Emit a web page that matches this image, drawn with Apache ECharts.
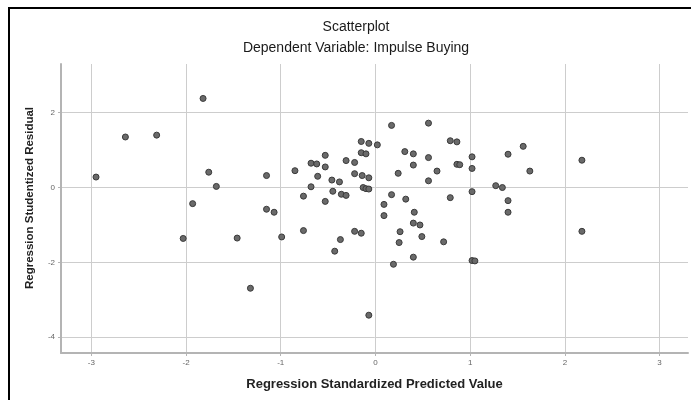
<!DOCTYPE html>
<html>
<head>
<meta charset="utf-8">
<script src="https://cdn.jsdelivr.net/npm/echarts@6/dist/echarts.min.js"></script>
<style>
html,body{margin:0;padding:0;background:#fff;}
#chart{width:691px;height:400px;}
</style>
</head>
<body>
<div id="chart"></div>
<script>
// Regression standardized predicted value (x)
var predicted = [
-2.95,-2.64,-2.31,-1.82,-1.76,-1.68,-1.93,-2.03,-1.46,-1.32,
-1.15,-1.15,-1.07,-0.99,-0.85,-0.76,-0.76,-0.68,-0.62,-0.68,
-0.61,-0.53,-0.53,-0.53,-0.46,-0.38,-0.45,-0.36,-0.31,-0.31,
-0.22,-0.43,-0.37,-0.22,-0.15,-0.15,-0.07,0.02,-0.15,-0.10,
-0.22,-0.14,-0.07,-0.13,-0.10,-0.07,-0.07,0.17,0.31,0.40,
0.24,0.17,0.09,0.09,0.32,0.26,0.25,0.19,0.56,0.79,
0.86,0.56,1.02,0.40,0.86,0.89,0.65,1.02,0.56,1.40,
1.56,1.63,1.27,1.34,1.02,0.79,1.40,0.41,1.40,2.18,
2.18,0.40,0.47,0.49,0.72,0.40,1.02,1.05
];
// Regression studentized residual (y)
var residual = [
0.28,1.35,1.40,2.38,0.41,0.03,-0.43,-1.36,-1.35,-2.69,
0.32,-0.58,-0.66,-1.32,0.45,-0.23,-1.15,0.65,0.63,0.02,
0.30,0.86,0.55,-0.37,0.20,0.15,-0.10,-0.18,-0.21,0.72,
0.67,-1.70,-1.39,-1.17,-1.22,1.23,1.18,1.14,0.93,0.90,
0.37,0.32,0.26,0.00,-0.03,-0.04,-3.41,1.66,0.96,0.90,
0.38,-0.19,-0.45,-0.75,-0.31,-1.18,-1.47,-2.05,1.72,1.25,
1.22,0.80,0.82,0.60,0.62,0.61,0.44,0.51,0.18,0.89,
1.10,0.44,0.05,0.00,-0.11,-0.27,-0.35,-0.66,-0.66,0.73,
-1.17,-0.95,-1.00,-1.31,-1.45,-1.86,-1.95,-1.96
];
var xTicks = [-3,-2,-1,0,1,2,3];
var yTicks = [-4,-2,0,2];

var points = predicted.map(function(v,i){ return [v, residual[i]]; });
var font = 'Liberation Sans, Arial, sans-serif';

var chart = echarts.init(document.getElementById('chart'));
chart.setOption({
  animation:false,
  backgroundColor:'#fff',
  grid:{left:61, right:3, top:64, bottom:47, containLabel:false},
  xAxis:{
    type:'value', min:-3.32, max:3.30,
    name:'Regression Standardized Predicted Value',
    nameLocation:'middle', nameGap:25,
    nameTextStyle:{fontFamily:font, fontSize:13, fontWeight:'bold', color:'#222'},
    axisLine:{show:true, onZero:false, lineStyle:{color:'#b4b4b4', width:2}},
    axisTick:{show:true, length:3, inside:false, customValues:xTicks, lineStyle:{color:'#b4b4b4'}},
    axisLabel:{customValues:xTicks, fontFamily:font, fontSize:8, color:'#666', margin:6},
    splitLine:{show:true, lineStyle:{color:'#cdcdcd', width:1}}
  },
  yAxis:{
    type:'value', min:-4.42, max:3.30,
    axisLine:{show:true, onZero:false, lineStyle:{color:'#b4b4b4', width:2}},
    axisTick:{show:true, length:3, customValues:yTicks, lineStyle:{color:'#b4b4b4'}},
    axisLabel:{customValues:yTicks, fontFamily:font, fontSize:8, color:'#666', margin:6},
    splitLine:{show:true, lineStyle:{color:'#cdcdcd', width:1}}
  },
  graphic:[
    {type:'rect', shape:{x:9, y:8, width:700, height:420},
     style:{fill:'none', stroke:'#000', lineWidth:2}, silent:true, z:100},
    {type:'text', x:356, y:27, style:{text:'Scatterplot', fontFamily:font, fontSize:14,
      fill:'#1a1a1a', align:'center', verticalAlign:'middle'}},
    {type:'text', x:356, y:48, style:{text:'Dependent Variable: Impulse Buying', fontFamily:font, fontSize:14,
      fill:'#1a1a1a', align:'center', verticalAlign:'middle'}},
    {type:'text', x:30, y:198, rotation:Math.PI/2, style:{text:'Regression Studentized Residual', fontFamily:font,
      fontSize:11.5, fontWeight:'bold', fill:'#222', align:'center', verticalAlign:'middle'}}
  ],
  series:[{
    type:'scatter',
    data:points,
    symbol:'circle',
    symbolSize:6,
    itemStyle:{color:'#6a6a6a', borderColor:'#3a3a3a', borderWidth:1, opacity:1}
  }]
});
</script>
</body>
</html>
